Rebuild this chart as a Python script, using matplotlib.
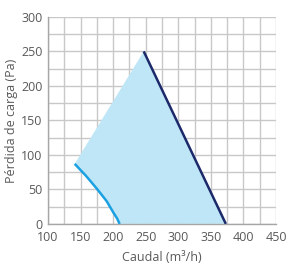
import numpy as np
import matplotlib.pyplot as plt
from matplotlib.ticker import MultipleLocator

plt.rcParams['font.family'] = ['Open Sans', 'DejaVu Sans']

# curva mínima (velocidad baja)
low_q = [141, 158, 175, 190, 200, 206, 210]
low_p = [87, 70, 51, 33, 17, 8, 0]
# curva máxima (velocidad alta)
high_q = [247, 373]
high_p = [250, 0]

txt = '#595959'

fig = plt.figure(figsize=(2.89, 2.64), dpi=100)
ax = fig.add_axes([0.166, 0.152, 0.789, 0.784])

# zona de trabajo
poly_q = low_q + high_q[::-1]
poly_p = low_p + high_p[::-1]
ax.fill(poly_q, poly_p, color='#bfe6f6', zorder=1, lw=0)

ax.plot(low_q, low_p, color='#1ba1e2', lw=1.8, zorder=3, solid_capstyle='butt')
ax.plot(high_q, high_p, color='#1c2a6b', lw=1.8, zorder=3, solid_capstyle='butt')

ax.set_xlim(100, 450)
ax.set_ylim(0, 300)
ax.xaxis.set_major_locator(MultipleLocator(50))
ax.yaxis.set_major_locator(MultipleLocator(50))
ax.xaxis.set_minor_locator(MultipleLocator(25))
ax.yaxis.set_minor_locator(MultipleLocator(25))
ax.grid(which='both', color='#c8c8c8', lw=1.0, zorder=0)
ax.set_axisbelow(True)
ax.tick_params(which='both', length=0, colors=txt, labelsize=9)
ax.tick_params(axis='x', pad=5)
ax.tick_params(axis='y', pad=4)
for s in ['top', 'right']:
    ax.spines[s].set_visible(False)
for s in ['left', 'bottom']:
    ax.spines[s].set_color('#a6a6a6')
    ax.spines[s].set_linewidth(1.0)

ax.set_xlabel('Caudal (m³/h)', color=txt, fontsize=9, labelpad=5)
ax.set_ylabel('Pérdida de carga (Pa)', color=txt, fontsize=9, labelpad=2)

fig.savefig('out.png', dpi=100)
